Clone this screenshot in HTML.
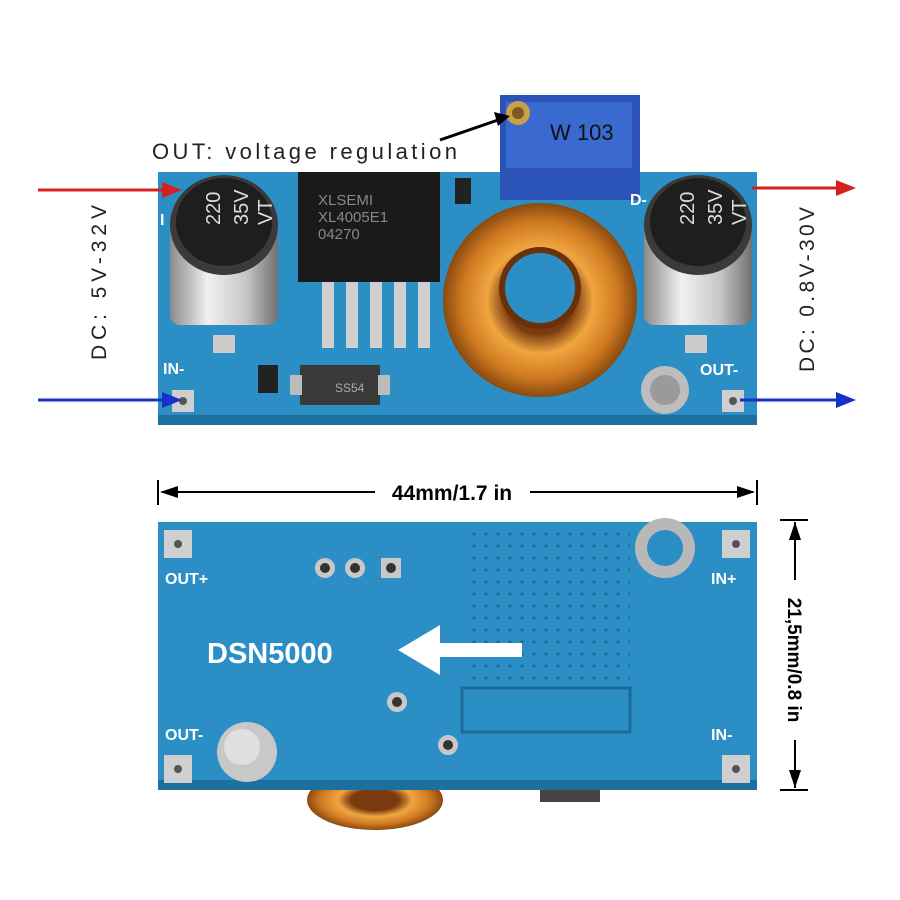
<!DOCTYPE html>
<html><head><meta charset="utf-8"><style>
html,body{margin:0;padding:0;background:#fff}
svg{display:block}
text{font-family:"Liberation Sans",sans-serif}
</style></head><body>
<svg width="900" height="900" viewBox="0 0 900 900" xmlns="http://www.w3.org/2000/svg">
<defs>
<linearGradient id="cyl" x1="0" x2="1"><stop offset="0" stop-color="#8a8a8a"/><stop offset=".35" stop-color="#f0f0f0"/><stop offset=".7" stop-color="#c8c8c8"/><stop offset="1" stop-color="#707070"/></linearGradient>
<radialGradient id="cu" cx=".5" cy=".5" r=".5"><stop offset=".35" stop-color="#7a3a10"/><stop offset=".55" stop-color="#f0a640"/><stop offset=".8" stop-color="#d07a20"/><stop offset="1" stop-color="#8a4a10"/></radialGradient>
<pattern id="grid" width="12" height="12" patternUnits="userSpaceOnUse"><circle cx="6" cy="6" r="1.6" fill="#1c6a98"/></pattern>
</defs>
<rect x="158" y="172" width="599" height="253" fill="#2b8fc6"/>
<rect x="158" y="415" width="599" height="10" fill="#1d6f9e"/>
<rect x="172" y="390" width="22" height="22" fill="#cfcfcf"/><circle cx="183" cy="401" r="4" fill="#555"/>
<rect x="722" y="390" width="22" height="22" fill="#cfcfcf"/><circle cx="733" cy="401" r="4" fill="#555"/>
<text x="163" y="374" font-size="16" font-weight="bold" fill="#fff">IN-</text>
<text x="700" y="375" font-size="16" font-weight="bold" fill="#fff">OUT-</text>
<rect x="170" y="225" width="108" height="100" rx="10" fill="url(#cyl)"/>
<ellipse cx="224" cy="225" rx="54" ry="50" fill="#3a3a3a"/>
<ellipse cx="224" cy="222" rx="48" ry="44" fill="#1e1e1e"/>
<text x="195" y="230" font-size="20" fill="#ddd" transform="rotate(-90 205 215)">220</text>
<text x="218" y="235" font-size="20" fill="#ddd" transform="rotate(-90 228 215)">35V</text>
<text x="242" y="235" font-size="20" fill="#ddd" transform="rotate(-90 252 215)">VT</text>
<rect x="213" y="335" width="22" height="18" fill="#ccc"/>
<rect x="644" y="225" width="108" height="100" rx="10" fill="url(#cyl)"/>
<ellipse cx="698" cy="225" rx="54" ry="50" fill="#3a3a3a"/>
<ellipse cx="698" cy="222" rx="48" ry="44" fill="#1e1e1e"/>
<text x="669" y="230" font-size="20" fill="#ddd" transform="rotate(-90 679 215)">220</text>
<text x="692" y="235" font-size="20" fill="#ddd" transform="rotate(-90 702 215)">35V</text>
<text x="716" y="235" font-size="20" fill="#ddd" transform="rotate(-90 726 215)">VT</text>
<rect x="685" y="335" width="22" height="18" fill="#ccc"/>
<g fill="#cfcfcf"><rect x="322" y="278" width="12" height="70"/><rect x="346" y="278" width="12" height="70"/><rect x="370" y="278" width="12" height="70"/><rect x="394" y="278" width="12" height="70"/><rect x="418" y="278" width="12" height="70"/></g>
<rect x="298" y="172" width="142" height="110" fill="#1a1a1a"/>
<text x="318" y="205" font-size="15" fill="#888">XLSEMI</text>
<text x="318" y="222" font-size="15" fill="#888">XL4005E1</text>
<text x="318" y="239" font-size="15" fill="#888">04270</text>
<rect x="300" y="365" width="80" height="40" fill="#3a3a3a"/><rect x="290" y="375" width="12" height="20" fill="#bbb"/><rect x="378" y="375" width="12" height="20" fill="#bbb"/>
<text x="335" y="392" font-size="12" fill="#aaa">SS54</text>
<rect x="258" y="365" width="20" height="28" fill="#222"/>
<rect x="455" y="178" width="16" height="26" fill="#222"/>
<circle cx="665" cy="390" r="24" fill="#bdbdbd"/><circle cx="665" cy="390" r="15" fill="#9a9a9a"/>
<circle cx="540" cy="300" r="97" fill="url(#cu)"/>
<circle cx="540" cy="288" r="36" fill="#2b8fc6"/>
<circle cx="540" cy="288" r="38" fill="none" stroke="#6a3008" stroke-width="6"/>
<rect x="500" y="95" width="140" height="105" fill="#2c54b8"/>
<rect x="506" y="102" width="126" height="66" fill="#3a6ad0"/>
<text x="550" y="140" font-size="22" fill="#111" font-family="DejaVu Sans Mono, monospace">W 103</text>
<circle cx="518" cy="113" r="12" fill="#c8a048"/><circle cx="518" cy="113" r="6" fill="#7a5a20"/>
<text x="630" y="205" font-size="16" font-weight="bold" fill="#fff">D-</text>
<text x="160" y="225" font-size="16" font-weight="bold" fill="#fff">I</text>
<text x="152" y="159" font-size="22" fill="#222" font-family="DejaVu Sans Mono, monospace" textLength="305">OUT: voltage regulation</text>
<line x1="440" y1="140" x2="498" y2="120" stroke="#000" stroke-width="3"/>
<polygon points="510,116 494,112 498,126" fill="#000"/>
<line x1="38" y1="190" x2="165" y2="190" stroke="#d62020" stroke-width="3"/>
<polygon points="182,190 162,182 162,198" fill="#d62020"/>
<line x1="752" y1="188" x2="838" y2="188" stroke="#d62020" stroke-width="3"/>
<polygon points="856,188 836,180 836,196" fill="#d62020"/>
<line x1="38" y1="400" x2="165" y2="400" stroke="#1830c8" stroke-width="3"/>
<polygon points="182,400 162,392 162,408" fill="#1830c8"/>
<line x1="740" y1="400" x2="838" y2="400" stroke="#1830c8" stroke-width="3"/>
<polygon points="856,400 836,392 836,408" fill="#1830c8"/>
<text font-size="21" fill="#222" font-family="DejaVu Sans Mono, monospace" textLength="155" transform="translate(106,360) rotate(-90)">DC: 5V-32V</text>
<text font-size="21" fill="#222" font-family="DejaVu Sans Mono, monospace" textLength="165" transform="translate(814,372) rotate(-90)">DC: 0.8V-30V</text>
<line x1="158" y1="480" x2="158" y2="505" stroke="#000" stroke-width="2"/>
<line x1="757" y1="480" x2="757" y2="505" stroke="#000" stroke-width="2"/>
<line x1="162" y1="492" x2="375" y2="492" stroke="#000" stroke-width="2"/>
<line x1="530" y1="492" x2="753" y2="492" stroke="#000" stroke-width="2"/>
<polygon points="160,492 178,486 178,498"/><polygon points="755,492 737,486 737,498"/>
<text x="452" y="500" font-size="21" font-weight="bold" text-anchor="middle">44mm/1.7 in</text>
<line x1="780" y1="520" x2="808" y2="520" stroke="#000" stroke-width="2"/>
<line x1="780" y1="790" x2="808" y2="790" stroke="#000" stroke-width="2"/>
<line x1="795" y1="522" x2="795" y2="580" stroke="#000" stroke-width="2"/>
<line x1="795" y1="740" x2="795" y2="788" stroke="#000" stroke-width="2"/>
<polygon points="795,522 789,540 801,540"/><polygon points="795,788 789,770 801,770"/>
<text font-size="19" font-weight="bold" text-anchor="middle" transform="translate(788,660) rotate(90)">21,5mm/0.8 in</text>
<ellipse cx="375" cy="800" rx="68" ry="30" fill="url(#cu)"/>
<rect x="540" y="788" width="60" height="14" fill="#444"/>
<rect x="158" y="522" width="599" height="268" fill="#2b8fc6"/>
<rect x="158" y="780" width="599" height="10" fill="#1d6f9e"/>
<rect x="470" y="525" width="160" height="155" fill="url(#grid)"/>
<rect x="462" y="688" width="168" height="44" fill="none" stroke="#1c6a98" stroke-width="3"/>
<rect x="164" y="530" width="28" height="28" fill="#cfcfcf"/><circle cx="178" cy="544" r="4" fill="#555"/>
<rect x="722" y="530" width="28" height="28" fill="#cfcfcf"/><circle cx="736" cy="544" r="4" fill="#555"/>
<rect x="164" y="755" width="28" height="28" fill="#cfcfcf"/><circle cx="178" cy="769" r="4" fill="#555"/>
<rect x="722" y="755" width="28" height="28" fill="#cfcfcf"/><circle cx="736" cy="769" r="4" fill="#555"/>
<circle cx="665" cy="548" r="30" fill="#b8b8b8"/><circle cx="665" cy="548" r="18" fill="#2b8fc6"/>
<circle cx="247" cy="752" r="30" fill="#c8c8c8"/><circle cx="242" cy="747" r="18" fill="#e0e0e0"/>
<circle cx="325" cy="568" r="10" fill="#c8c8c8"/><circle cx="325" cy="568" r="5" fill="#333"/>
<circle cx="355" cy="568" r="10" fill="#c8c8c8"/><circle cx="355" cy="568" r="5" fill="#333"/>
<rect x="381" y="558" width="20" height="20" fill="#c8c8c8"/><circle cx="391" cy="568" r="5" fill="#333"/>
<circle cx="397" cy="702" r="10" fill="#c8c8c8"/><circle cx="397" cy="702" r="5" fill="#333"/>
<circle cx="448" cy="745" r="10" fill="#c8c8c8"/><circle cx="448" cy="745" r="5" fill="#333"/>
<text x="165" y="584" font-size="16" font-weight="bold" fill="#fff">OUT+</text>
<text x="711" y="584" font-size="16" font-weight="bold" fill="#fff">IN+</text>
<text x="165" y="740" font-size="16" font-weight="bold" fill="#fff">OUT-</text>
<text x="711" y="740" font-size="16" font-weight="bold" fill="#fff">IN-</text>
<text x="207" y="663" font-size="29" font-weight="bold" fill="#fff">DSN5000</text>
<rect x="432" y="643" width="90" height="14" fill="#fff"/>
<polygon points="398,650 440,625 440,675" fill="#fff"/>
</svg>
</body></html>
